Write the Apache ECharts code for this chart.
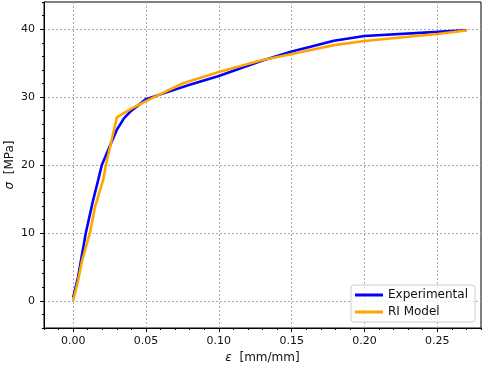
<!DOCTYPE html>
<html>
<head>
<meta charset="utf-8">
<script src="https://cdn.jsdelivr.net/npm/echarts@6/dist/echarts.min.js"></script>
<style>
  html, body { margin: 0; padding: 0; background: #fff; }
  #chart { width: 484px; height: 369px; }
</style>
</head>
<body>
<div id="chart"></div>
<script>
// values
const expStrain = [0, 0.0034, 0.0087, 0.0137, 0.0172, 0.0197, 0.025, 0.030, 0.035, 0.040, 0.046, 0.050, 0.060, 0.080, 0.100, 0.130, 0.150, 0.163, 0.179, 0.200, 0.250, 0.270];
const expStress = [0.5, 3.5, 10.0, 14.8, 17.8, 20.0, 22.7, 25.2, 26.9, 28.0, 29.0, 29.7, 30.4, 31.8, 33.1, 35.4, 36.7, 37.4, 38.3, 39.0, 39.6, 39.85];

const modelStrain = [0, 0.0034, 0.006, 0.0115, 0.015, 0.0206, 0.0225, 0.030, 0.040, 0.050, 0.075, 0.100, 0.130, 0.156, 0.179, 0.200, 0.250, 0.270];
const modelStress = [0, 3.0, 5.8, 10.0, 13.8, 17.8, 20.0, 27.0, 28.3, 29.4, 32.0, 33.7, 35.45, 36.6, 37.65, 38.25, 39.3, 39.8];

const xTicks = [0, 0.05, 0.10, 0.15, 0.20, 0.25];
const yTicks = [0, 10, 20, 30, 40];
const seriesNames = ['Experimental', 'RI Model'];

const font = 'DejaVu Sans';
const textColor = '#111';
const gridColor = '#aaa';

const chart = echarts.init(document.getElementById('chart'), null, { renderer: 'canvas' });

const pairs = (xs, ys) => xs.map((x, i) => [x, ys[i]]);

const nameStyle = {
  fontFamily: font,
  fontSize: 12,
  color: textColor,
  rich: {
    i: { fontFamily: font, fontSize: 12, fontStyle: 'italic', color: textColor },
  },
};

// axis 0 carries the minor ticks, axis 1 the labelled ticks + grid lines
const xRange = { type: 'value', min: -0.02, max: 0.28, interval: 0.01, position: 'bottom' };
const yRange = { type: 'value', min: -4, max: 44, interval: 2, position: 'left' };

const option = {
  animation: false,
  backgroundColor: '#fff',
  grid: {
    left: 44,
    right: 3,
    top: 2,
    bottom: 41,
    show: true,
    borderColor: '#000',
    borderWidth: 1,
    containLabel: false,
    outerBoundsMode: 'none',
  },
  legend: {
    data: seriesNames,
    orient: 'vertical',
    right: 9,
    bottom: 47,
    icon: 'rect',
    itemWidth: 28,
    itemHeight: 3,
    itemGap: 5,
    padding: [4, 7, 4, 4],
    backgroundColor: 'rgba(255,255,255,0.8)',
    borderColor: '#ccc',
    borderWidth: 1,
    borderRadius: 3,
    textStyle: { fontFamily: font, fontSize: 12, color: textColor },
  },
  xAxis: [
    Object.assign({}, xRange, {
      axisLine: { show: true, onZero: false, lineStyle: { color: '#000', width: 1 } },
      axisTick: { show: true, length: 2, lineStyle: { color: '#000' } },
      axisLabel: { show: false },
      splitLine: { show: false },
    }),
    Object.assign({}, xRange, {
      axisLine: { show: false, onZero: false },
      axisTick: { show: true, length: 4, customValues: xTicks, lineStyle: { color: '#000' } },
      axisLabel: {
        customValues: xTicks,
        margin: 8,
        fontFamily: font,
        fontSize: 11,
        color: textColor,
        formatter: (v) => v.toFixed(2),
      },
      splitLine: { show: true, lineStyle: { color: gridColor, type: [2, 2], width: 1 } },
      name: '{i|ε}  [mm/mm]',
      nameLocation: 'middle',
      nameGap: 23,
      nameTextStyle: nameStyle,
    }),
  ],
  yAxis: [
    Object.assign({}, yRange, {
      axisLine: { show: true, onZero: false, lineStyle: { color: '#000', width: 1 } },
      axisTick: { show: true, length: 2, lineStyle: { color: '#000' } },
      axisLabel: { show: false },
      splitLine: { show: false },
    }),
    Object.assign({}, yRange, {
      axisLine: { show: false, onZero: false },
      axisTick: { show: true, length: 4, customValues: yTicks, lineStyle: { color: '#000' } },
      axisLabel: {
        customValues: yTicks,
        margin: 9,
        fontFamily: font,
        fontSize: 11,
        color: textColor,
      },
      splitLine: { show: true, lineStyle: { color: gridColor, type: [2, 2], width: 1 } },
      name: '{i|σ}  [MPa]',
      nameLocation: 'middle',
      nameGap: 28,
      nameMoveOverlap: false,
      nameTextStyle: nameStyle,
    }),
  ],
  series: [
    {
      name: seriesNames[0],
      type: 'line',
      xAxisIndex: 0,
      yAxisIndex: 0,
      symbol: 'none',
      color: '#0000ff',
      lineStyle: { width: 2.6, color: '#0000ff' },
      data: pairs(expStrain, expStress),
      z: 3,
    },
    {
      name: seriesNames[1],
      type: 'line',
      xAxisIndex: 0,
      yAxisIndex: 0,
      symbol: 'none',
      color: '#ffa500',
      lineStyle: { width: 2.6, color: '#ffa500' },
      data: pairs(modelStrain, modelStress),
      z: 4,
    },
  ],
};

chart.setOption(option);
</script>
</body>
</html>
